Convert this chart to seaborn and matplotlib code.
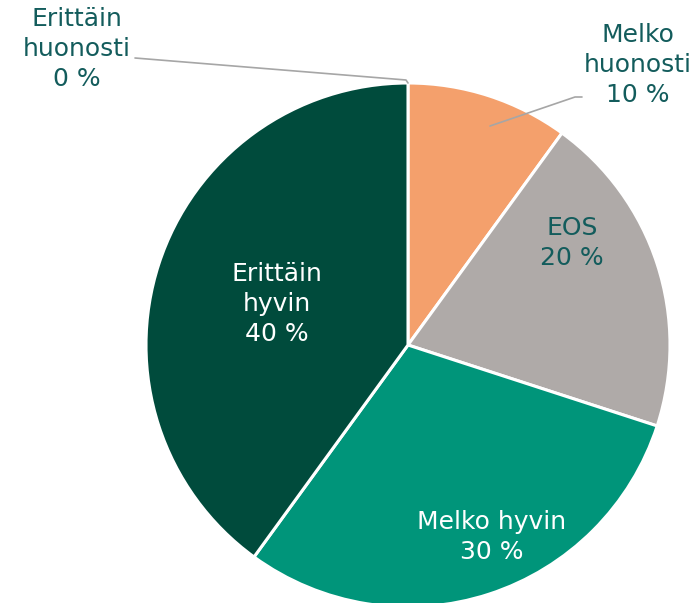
import seaborn as sns
import matplotlib.pyplot as plt

categories = ["Erittäin huonosti", "Melko huonosti", "EOS", "Melko hyvin", "Erittäin hyvin"]
shares = [0, 10, 20, 30, 40]
label_texts = ["Erittäin\nhuonosti\n0 %", "Melko\nhuonosti\n10 %", "EOS\n20 %",
               "Melko hyvin\n30 %", "Erittäin\nhyvin\n40 %"]
colors = ["#1F3F6F", "#F4A06C", "#AFAAA8", "#00957A", "#004B3C"]

W, H = 697, 603
sns.set_theme(style="white")
plt.rcParams["font.family"] = ["DejaVu Sans"]

fig = plt.figure(figsize=(W / 100, H / 100), dpi=100)
ax = fig.add_axes([0, 0, 1, 1])

cx, cy, r = 408, H - 345, 262
ax.pie(shares, colors=colors, startangle=90, counterclock=False,
       center=(cx, cy), radius=r, frame=True,
       wedgeprops=dict(edgecolor="white", linewidth=2.2))
ax.set_xlim(0, W)
ax.set_ylim(0, H)
ax.set_aspect("equal")
ax.axis("off")

dark = "#135C5C"
# label positions in pixels (x, y from top)
pos = [(77, 49), (638, 65), (572, 243), (492, 537), (277, 304)]
txt_col = [dark, dark, dark, "white", "white"]
for t, (x, y), c in zip(label_texts, pos, txt_col):
    ax.text(x, H - y, t, ha="center", va="center", fontsize=18,
            color=c, linespacing=1.33)

# leader lines
ax.plot([135, 406, 408], [H - 58, H - 80, H - 83], color="#A6A6A6", lw=1.2)
ax.plot([490, 575, 582], [H - 126, H - 97, H - 97], color="#A6A6A6", lw=1.2)

fig.savefig("out.png", dpi=100)
